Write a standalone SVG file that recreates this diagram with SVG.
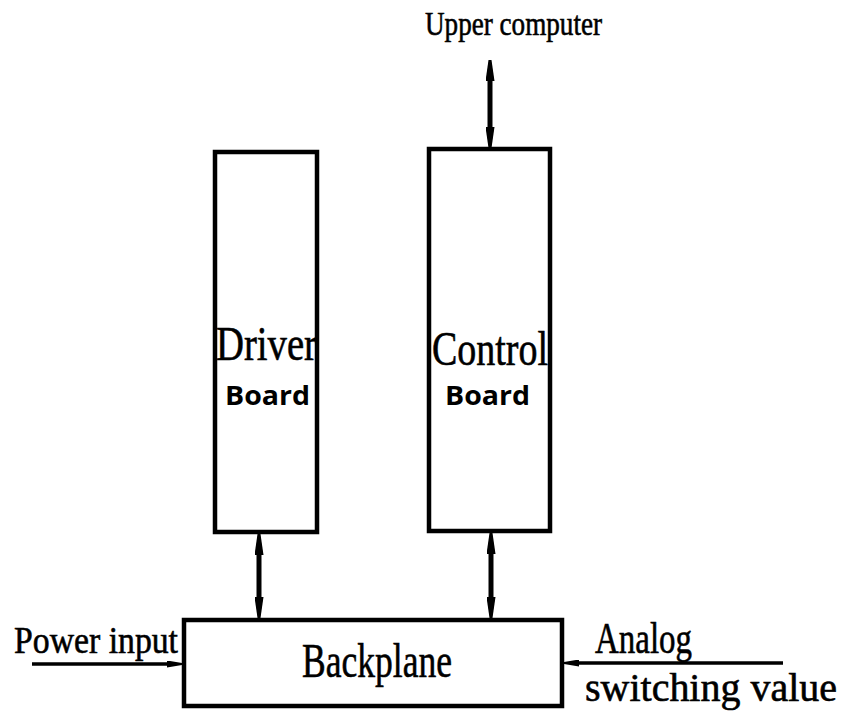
<svg xmlns="http://www.w3.org/2000/svg" width="846" height="715" viewBox="0 0 846 715">
<style>
.box{fill:#fff;stroke:#000;stroke-width:4.5}
.lbl{font-family:"Liberation Serif",serif;fill:#000;stroke:#000;stroke-width:0.6}
.brd{font-family:"Open Sans","Liberation Sans",sans-serif;font-weight:bold;fill:#000}
.bus{stroke:#000;stroke-width:5;fill:none}
.sig{stroke:#000;stroke-width:3.5;fill:none}
</style>
<defs>
<marker id="ah" markerUnits="userSpaceOnUse" markerWidth="21" markerHeight="9" refX="0" refY="4.5" orient="auto-start-reverse" viewBox="0 0 21 9">
<path d="M0,0 L21,3 L21,6 L0,9 z" fill="#000"/>
</marker>
<marker id="as" markerUnits="userSpaceOnUse" markerWidth="15" markerHeight="7" refX="0" refY="3.5" orient="auto" viewBox="0 0 15 7">
<path d="M0,0 L15,2.5 L15,4.5 L0,7 z" fill="#000"/>
</marker>
</defs>
<rect width="846" height="715" fill="#fff"/>
<g id="upper-computer">
<text class="lbl" x="425" y="35" font-size="34" textLength="177" lengthAdjust="spacingAndGlyphs">Upper computer</text>
</g>
<g id="driver-board">
<rect class="box" x="215" y="152" width="102" height="380"/>
<text class="lbl" x="216" y="360" font-size="48" textLength="101" lengthAdjust="spacingAndGlyphs">Driver</text>
<text class="brd" x="225" y="405" font-size="27" textLength="85" lengthAdjust="spacingAndGlyphs">Board</text>
</g>
<g id="control-board">
<rect class="box" x="429" y="149" width="121" height="382"/>
<text class="lbl" x="432" y="365" font-size="48" textLength="116" lengthAdjust="spacingAndGlyphs">Control</text>
<text class="brd" x="445" y="405" font-size="27" textLength="85" lengthAdjust="spacingAndGlyphs">Board</text>
</g>
<g id="backplane">
<rect class="box" x="184" y="620" width="378" height="86"/>
<text class="lbl" x="302" y="677" font-size="48" textLength="150" lengthAdjust="spacingAndGlyphs">Backplane</text>
</g>
<g id="power-input">
<text class="lbl" x="14" y="653" font-size="38" textLength="164" lengthAdjust="spacingAndGlyphs">Power input</text>
</g>
<g id="analog-switching">
<text class="lbl" x="595" y="653" font-size="44" textLength="97" lengthAdjust="spacingAndGlyphs">Analog</text>
<text class="lbl" x="585" y="701" font-size="40" textLength="252" lengthAdjust="spacingAndGlyphs">switching value</text>
</g>
<g id="connectors">
<line class="bus" x1="490" y1="81" x2="490" y2="127" marker-start="url(#ah)" marker-end="url(#ah)"/>
<line class="bus" x1="259" y1="555" x2="259" y2="597" marker-start="url(#ah)" marker-end="url(#ah)"/>
<line class="bus" x1="491" y1="554" x2="491" y2="597" marker-start="url(#ah)" marker-end="url(#ah)"/>
<line class="sig" x1="32" y1="664" x2="167" y2="664" marker-end="url(#as)"/>
<line class="sig" x1="783" y1="663" x2="579" y2="663" marker-end="url(#as)"/>
</g>
</svg>
